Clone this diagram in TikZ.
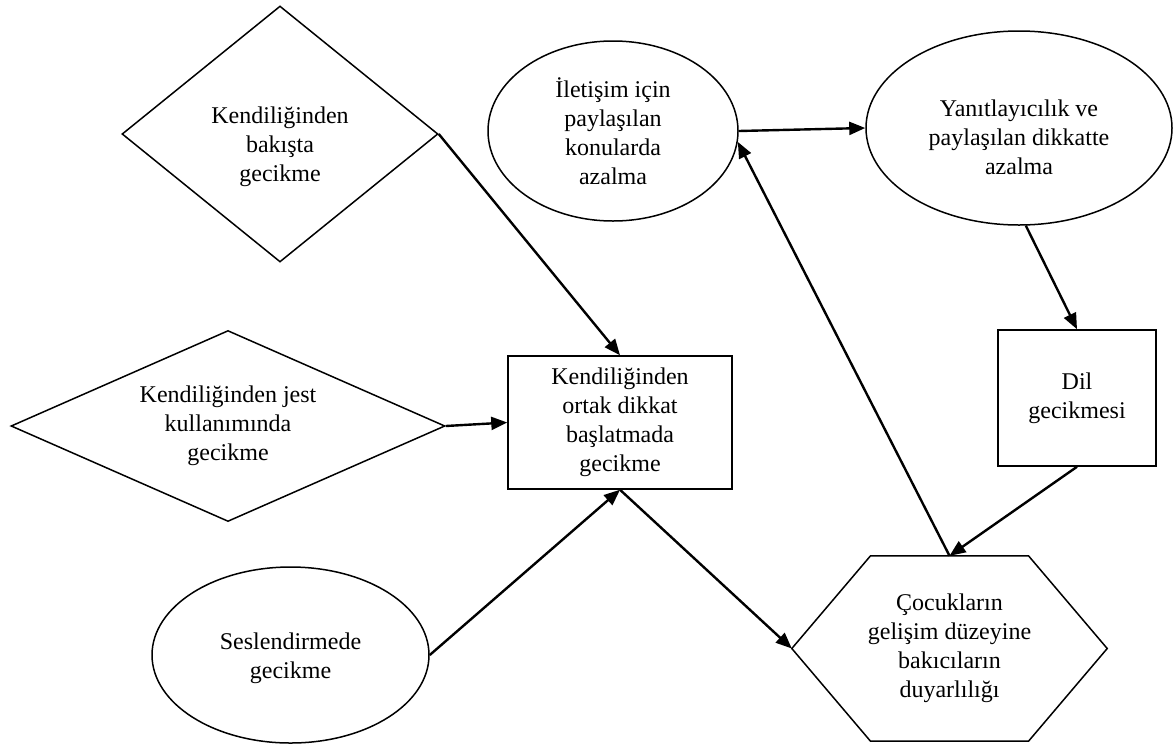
\documentclass[tikz,border=0pt]{standalone}
\usepackage{fontspec}
\setmainfont{Liberation Serif}
\usetikzlibrary{shapes.geometric,arrows.meta,calc}

\tikzset{
  box/.style={draw, line width=1.5pt, rectangle, inner sep=0pt, align=center},
  diam/.style={draw, line width=1.5pt, diamond, inner sep=0pt, shape aspect=2, align=center},
  oval/.style={draw, line width=1.5pt, ellipse, inner sep=0pt, align=center},
  txt/.style={align=center, inner sep=0pt},
  conn/.style={line width=2.4pt, -{Triangle[length=16pt,width=13pt]}},
}

\begin{document}
\begin{tikzpicture}[x=1pt, y=-1pt, font=\fontsize{24}{29}\selectfont]
\useasboundingbox (0,0) rectangle (1174,745);

% left column: the three early signs
\node[diam, minimum width=316pt, minimum height=256pt] (bakis) at (280,134) {};
\node[txt] (bakistxt) at (280,147) {Kendiliğinden\\bakışta\\gecikme};

\node[diam, minimum width=434pt, minimum height=191pt] (jest) at (228,426)
  {Kendiliğinden jest\\kullanımında\\gecikme};

\node[oval, minimum width=277pt, minimum height=176pt] (ses) at (290.5,655) {};
\node[txt] (sestxt) at (290.5,658) {Seslendirmede\\gecikme};

% joint attention
\node[box, minimum width=224pt, minimum height=133pt] (ortak) at (620,422.5)
  {Kendiliğinden\\ortak dikkat\\başlatmada\\gecikme};

% top row
\node[oval, minimum width=250pt, minimum height=180pt] (iletisim) at (613,131)
  {İletişim için\\paylaşılan\\konularda\\azalma};

\node[oval, minimum width=306pt, minimum height=194pt] (yanit) at (1019,128) {};
\node[txt] (yanittxt) at (1019,137) {Yanıtlayıcılık ve\\paylaşılan dikkatte\\azalma};

% language delay
\node[box, minimum width=158pt, minimum height=136pt] (dil) at (1077,398)
  {Dil\\gecikmesi};

% caregiver sensitivity (stretched hexagon)
\node[txt, minimum width=315pt, minimum height=185pt] (hex) at (949.5,648.5)
  {Çocukların\\gelişim düzeyine\\bakıcıların\\duyarlılığı};
\draw[line width=1.5pt] (hex.west) -- ([xshift=-79pt]hex.north) -- ([xshift=79pt]hex.north)
  -- (hex.east) -- ([xshift=79pt]hex.south) -- ([xshift=-79pt]hex.south) -- cycle;

% connectors
\draw[conn] (bakis.east) -- (ortak.north);
\draw[conn] (jest.east) -- (ortak.west);
\draw[conn] (ses.east) -- (ortak.south);
\draw[conn] (ortak.south) -- (hex.west);
\draw[conn] (hex.north) -- (iletisim.-5);
\draw[conn] (iletisim.east) -- (yanit.west);
\draw[conn] (yanit.-86) -- (dil.north);
\draw[conn] (dil.south) -- (hex.north);
\end{tikzpicture}
\end{document}
